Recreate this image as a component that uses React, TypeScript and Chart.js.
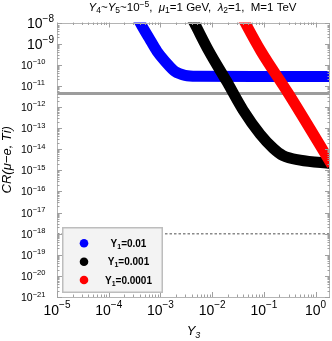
import React, { useEffect, useRef } from "react";
import { Chart, registerables } from "chart.js";
Chart.register(...registerables);

// ---- data ----
const blueX = [3.52e-4, 4.03e-4, 6.03e-4, 8.6e-4, 1.23e-3, 1.92e-3, 2.99e-3, 5.1e-3, 0.084, 2.0];
const blueY = [2.03e-8, 1.0e-8, 1.84e-9, 4.3e-10, 1.45e-10, 4.77e-11, 3.15e-11, 2.85e-11, 2.8e-11, 2.75e-11];
const blackX = [3.82e-3, 4.47e-3, 8.7e-3, 0.0191, 0.0396, 0.0844, 0.1506, 0.235, 0.501, 2.0];
const blackY = [2.03e-8, 1.0e-8, 4.3e-10, 1.63e-11, 7.1e-13, 5.2e-14, 1.13e-14, 4.98e-15, 3.04e-15, 2.1e-15];
const redX = [0.0371, 0.0432, 0.0883, 0.294, 2.08];
const redY = [2.03e-8, 1.0e-8, 4.3e-10, 4.56e-12, 1.76e-15];
const limitX = [1e-5, 2.0];
const currentBoundY = [4.3e-12, 4.3e-12];
const futureBoundY = [1e-18, 1e-18];

const xTickExps = [-5, -4, -3, -2, -1, 0];
const yTickExps = [-8, -9, -10, -11, -12, -13, -14, -15, -16, -17, -18, -19, -20, -21];
const legendLabels = ["0.01", "0.001", "0.0001"];
const legendColors = ["#0000ff", "#000000", "#ff0000"];

const X_MIN = 1e-5, X_MAX = 1.9, Y_MIN = 1e-21, Y_MAX = 1e-8;
const FONT = '"Liberation Sans", Arial, sans-serif';

type Seg = { t: string; size: number; style?: string; weight?: string; dy?: number };
const fontOf = (s: Seg) => `${s.style || "normal"} ${s.weight || "normal"} ${s.size}px ${FONT}`;

function drawRich(ctx: CanvasRenderingContext2D, segs: Seg[], x: number, y: number, align: "left" | "center" | "right") {
  let total = 0;
  const widths = segs.map((s) => {
    ctx.font = fontOf(s);
    const w = ctx.measureText(s.t).width;
    total += w;
    return w;
  });
  let cx = align === "left" ? x : align === "center" ? x - total / 2 : x - total;
  ctx.textAlign = "left";
  ctx.textBaseline = "alphabetic";
  segs.forEach((s, i) => {
    ctx.font = fontOf(s);
    ctx.fillText(s.t, cx, y + (s.dy || 0));
    cx += widths[i];
  });
}

const expStr = (e: number) => (e < 0 ? "\u2212" + Math.abs(e) : String(e));

const decor = {
  id: "decor",
  afterDraw(chart: any) {
    const ctx: CanvasRenderingContext2D = chart.ctx;
    const xs = chart.scales.x, ys = chart.scales.y;
    const { left, right, top, bottom } = chart.chartArea;
    ctx.save();
    // frame
    ctx.strokeStyle = "#b4b4b4";
    ctx.lineWidth = 1;
    ctx.strokeRect(Math.round(left) + 0.5, Math.round(top) + 0.5, Math.round(right - left) - 1, Math.round(bottom - top) - 1);
    // ticks
    ctx.strokeStyle = "#a0a0a0";
    ctx.beginPath();
    for (let e = -5; e <= 0; e++) {
      for (let m = 1; m <= 9; m++) {
        const v = m * Math.pow(10, e);
        if (v > X_MAX) break;
        const px = Math.round(xs.getPixelForValue(v)) + 0.5;
        const len = m === 1 ? 5 : 2.5;
        ctx.moveTo(px, bottom); ctx.lineTo(px, bottom - len);
        ctx.moveTo(px, top); ctx.lineTo(px, top + len);
      }
    }
    for (let e = -21; e <= -8; e++) {
      for (let m = 1; m <= 9; m++) {
        const v = m * Math.pow(10, e);
        if (v > Y_MAX * 1.0001) break;
        const py = Math.round(ys.getPixelForValue(v)) + 0.5;
        const len = m === 1 ? 5 : 2.5;
        ctx.moveTo(left, py); ctx.lineTo(left + len, py);
        ctx.moveTo(right, py); ctx.lineTo(right - len, py);
      }
    }
    ctx.stroke();

    ctx.fillStyle = "#000";
    // x tick labels
    xTickExps.forEach((e) => {
      const px = xs.getPixelForValue(Math.pow(10, e));
      drawRich(ctx, [{ t: "10", size: 14 }, { t: expStr(e), size: 10, dy: -7 }], px, bottom + 18, "center");
    });
    // y tick labels
    yTickExps.forEach((e) => {
      const py = ys.getPixelForValue(Math.pow(10, e));
      if (Math.abs(e) < 10) {
        drawRich(ctx, [{ t: "10", size: 14 }, { t: expStr(e), size: 10, dy: -6.3 }], 27, py + 5.8, "left");
      } else {
        drawRich(ctx, [{ t: "10", size: 10.5 }, { t: expStr(e), size: 7.5, dy: -4.5 }], 21, py + 4, "left");
      }
    });

    // title
    const T = 11.5;
    const S = 8.5;
    drawRich(ctx, [
      { t: "Y", size: T, style: "italic" }, { t: "4", size: S, dy: 2.5 },
      { t: "~", size: T },
      { t: "Y", size: T, style: "italic" }, { t: "5", size: S, dy: 2.5 },
      { t: "~10", size: T }, { t: "\u22125", size: S, dy: -4 },
      { t: ",  ", size: T },
      { t: "\u03bc", size: T, style: "italic" }, { t: "1", size: S, dy: 2.5 },
      { t: "=1 GeV,  ", size: T },
      { t: "\u03bb", size: T, style: "italic" }, { t: "2", size: S, dy: 2.5 },
      { t: "=1,  M=1 TeV", size: T },
    ], 192.5, 10.5, "center");

    // x axis title
    drawRich(ctx, [{ t: "Y", size: 13, style: "italic" }, { t: "3", size: 9, style: "italic", dy: 3 }], (left + right) / 2, 335, "center");

    // y axis title
    ctx.save();
    ctx.translate(11, (top + bottom) / 2);
    ctx.rotate(-Math.PI / 2);
    drawRich(ctx, [{ t: "CR(\u03bc\u2212e, Ti)", size: 13, style: "italic" }], 0, 0, "center");
    ctx.restore();

    // legend box
    const bx = 62, by = 227, bw = 101, bh = 66;
    ctx.fillStyle = "#f3f3f3";
    ctx.fillRect(bx, by, bw, bh);
    ctx.strokeStyle = "#bdbdbd";
    ctx.lineWidth = 1.5;
    ctx.strokeRect(bx + 0.75, by + 0.75, bw - 1.5, bh - 1.5);
    const rows = [243.3, 261.7, 280];
    legendLabels.forEach((lab, i) => {
      ctx.fillStyle = legendColors[i];
      ctx.beginPath();
      ctx.arc(84, rows[i], 4.3, 0, Math.PI * 2);
      ctx.fill();
      ctx.fillStyle = "#000";
      drawRich(ctx, [
        { t: "Y", size: 10, weight: "bold" },
        { t: "1", size: 7, weight: "bold", dy: 2 },
        { t: "=" + lab, size: 10, weight: "bold" },
      ], 128.5, rows[i] + 3.5, "center");
    });
    ctx.restore();
  },
};

const mk = (xv: number[], yv: number[]) => xv.map((x, i) => ({ x, y: yv[i] }));

export default function App() {
  const ref = useRef<HTMLCanvasElement>(null);
  useEffect(() => {
    document.body.style.margin = "0";
    const band = (data: any, color: string, order: number) => ({
      data,
      borderColor: color,
      backgroundColor: color,
      borderWidth: 11,
      pointRadius: 0,
      cubicInterpolationMode: "monotone",
      borderJoinStyle: "round",
      borderCapStyle: "butt",
      fill: false,
      clip: 0,
      order,
    });
    const chart = new Chart(ref.current as HTMLCanvasElement, {
      type: "line",
      data: {
        datasets: [
          band(mk(blueX, blueY), "#0000ff", 2) as any,
          band(mk(blackX, blackY), "#000000", 1) as any,
          band(mk(redX, redY), "#ff0000", 0) as any,
          {
            data: mk(limitX, currentBoundY),
            borderColor: "#9c9c9c",
            borderWidth: 3,
            pointRadius: 0,
            fill: false,
            clip: 0,
            order: 3,
          } as any,
          {
            data: mk(limitX, futureBoundY),
            borderColor: "#8a8a8a",
            borderWidth: 1.5,
            borderDash: [2.5, 2],
            pointRadius: 0,
            fill: false,
            clip: 0,
            order: 4,
          } as any,
        ],
      },
      options: {
        responsive: false,
        devicePixelRatio: 1,
        animation: false,
        layout: { padding: { left: 57, top: 22.5, right: 2, bottom: 44 } },
        plugins: { legend: { display: false }, tooltip: { enabled: false }, title: { display: false } },
        scales: {
          x: { type: "logarithmic", min: X_MIN, max: X_MAX, display: false },
          y: { type: "logarithmic", min: Y_MIN, max: Y_MAX, display: false },
        },
      } as any,
      plugins: [decor],
    });
    return () => chart.destroy();
  }, []);
  return (
    <div style={{ width: 332, height: 341 }}>
      <canvas ref={ref} width={332} height={341} style={{ display: "block" }} />
    </div>
  );
}
